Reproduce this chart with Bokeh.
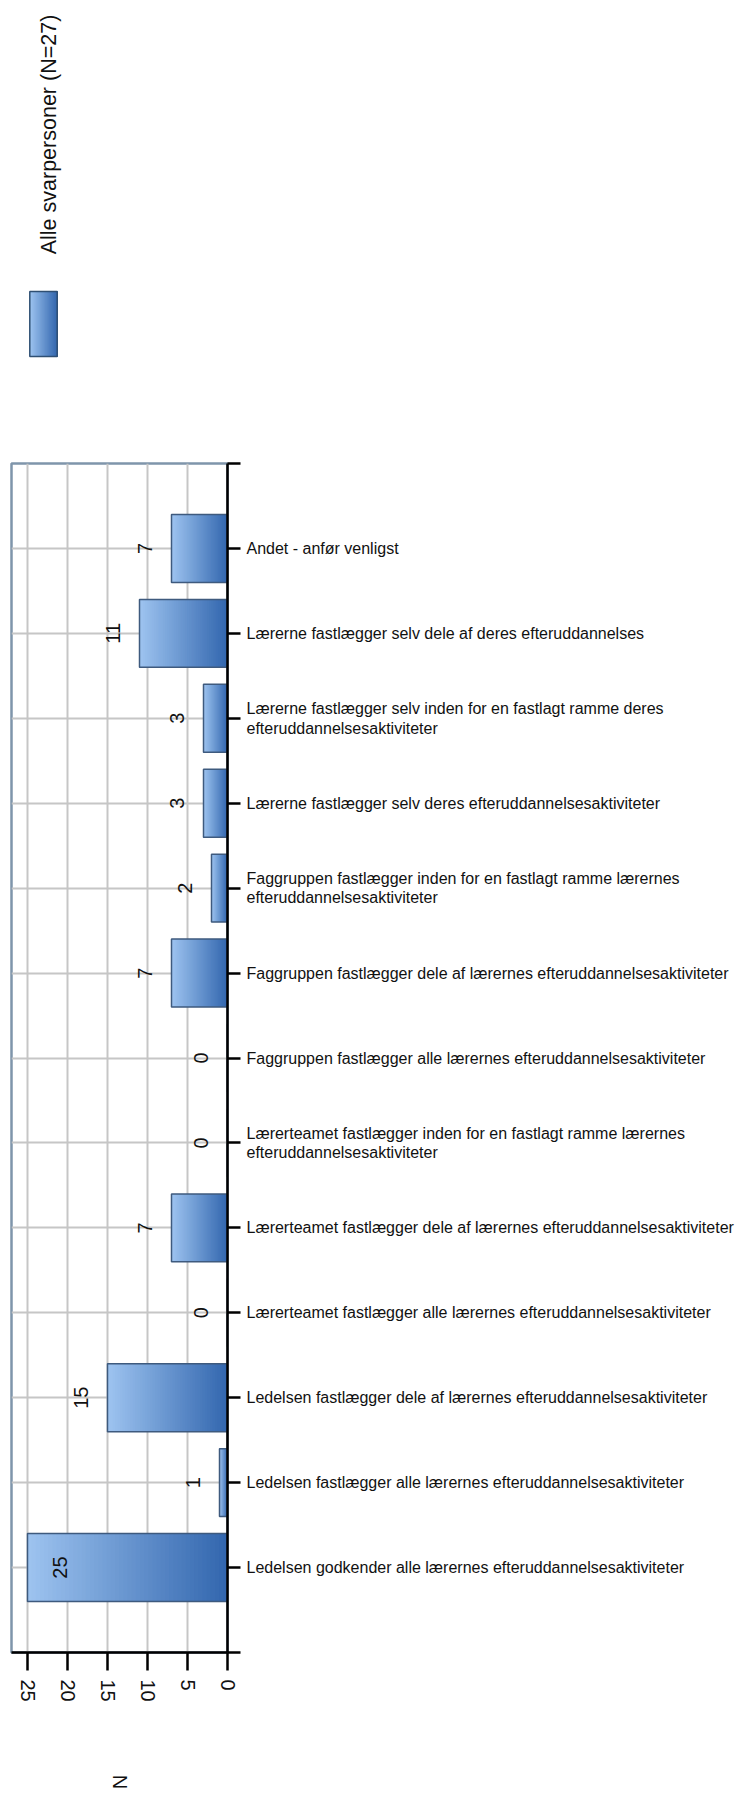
import math
from bokeh.plotting import figure
from bokeh.models import Range1d, FixedTicker
from bokeh.layouts import column
from bokeh.embed import file_html
from bokeh.resources import INLINE
from bokeh.core.properties import value

# ---------------- data ----------------
categories = [
    "Ledelsen godkender alle lærernes efteruddannelsesaktiviteter",
    "Ledelsen fastlægger alle lærernes efteruddannelsesaktiviteter",
    "Ledelsen fastlægger dele af lærernes efteruddannelsesaktiviteter",
    "Lærerteamet fastlægger alle lærernes efteruddannelsesaktiviteter",
    "Lærerteamet fastlægger dele af lærernes efteruddannelsesaktiviteter",
    "Lærerteamet fastlægger inden for en fastlagt ramme lærernes\nefteruddannelsesaktiviteter",
    "Faggruppen fastlægger alle lærernes efteruddannelsesaktiviteter",
    "Faggruppen fastlægger dele af lærernes efteruddannelsesaktiviteter",
    "Faggruppen fastlægger inden for en fastlagt ramme lærernes\nefteruddannelsesaktiviteter",
    "Lærerne fastlægger selv deres efteruddannelsesaktiviteter",
    "Lærerne fastlægger selv inden for en fastlagt ramme deres\nefteruddannelsesaktiviteter",
    "Lærerne fastlægger selv dele af deres efteruddannelses",
    "Andet - anfør venligst",
]
counts = [25, 1, 15, 0, 7, 0, 0, 7, 2, 3, 3, 11, 7]
series_name = "Alle svarpersoner (N=27)"
value_ticks = [0, 5, 10, 15, 20, 25]
value_axis_title = "N"
value_max = 27

# ---------------- style ----------------
FONT = "Liberation Sans"
LIGHT = (158, 196, 240)
DARK = (50, 102, 174)
BAR_LINE = "#3E5A7E"
GRID = "#C6C6C6"
FRAME = "#7F95AB"
TXT = "#111111"
LEG_H = 455
FRAME_W, FRAME_H = 216, 1189
BORDER_L, BORDER_R = 11, 509
NSLICE = 48


def mix(t):
    r = [round(d + (l - d) * t) for d, l in zip(DARK, LIGHT)]
    return "#%02x%02x%02x" % tuple(r)


# ---------------- legend strip (frame aligned with the main frame; units = pixels, y up) ----------------
leg = figure(frame_width=FRAME_W, frame_height=LEG_H,
             x_range=Range1d(BORDER_L, BORDER_L + FRAME_W), y_range=Range1d(0, LEG_H),
             x_axis_type=None, y_axis_type=None, toolbar_location=None,
             output_backend="svg", min_border_left=BORDER_L, min_border_right=BORDER_R,
             min_border_top=0, min_border_bottom=0, outline_line_color=None)
sw_l, sw_r, sw_top_px, sw_bot_px = 29.3, 56.7, 291.0, 356.0
sw_t, sw_b = LEG_H - sw_top_px, LEG_H - sw_bot_px
ns = 24
leg.quad(left=[sw_l + (sw_r - sw_l) * k / ns for k in range(ns)],
         right=sw_r, bottom=sw_b, top=sw_t,
         fill_color=[mix(1 - (k + 0.5) / ns) for k in range(ns)], line_color=None)
leg.quad(left=[sw_l], right=[sw_r], bottom=[sw_b], top=[sw_t], fill_color=None,
         line_color="#2F4F73", line_width=1.5)
leg.text(x=[48], y=[LEG_H - 134], text=[series_name], angle=math.pi / 2,
         text_align="center", text_baseline="middle",
         text_font=value(FONT), text_font_size="21.5px", text_color=TXT)

# ---------------- main figure ----------------
pos = [i + 1 for i in range(len(categories))]
p = figure(frame_width=FRAME_W, frame_height=FRAME_H, x_range=Range1d(value_max, 0),
           y_range=Range1d(0, len(categories) + 1), y_axis_location="right",
           toolbar_location=None, output_backend="svg",
           min_border_left=BORDER_L, min_border_right=BORDER_R,
           min_border_top=8, min_border_bottom=144)
p.outline_line_color = FRAME
p.outline_line_width = 2.5

# gradient bars: nested slices from value*k/N out to the bar end
ys, lefts, rights, cols = [], [], [], []
for y, v in zip(pos, counts):
    if v <= 0:
        continue
    for k in range(NSLICE):
        ys.append(y)
        lefts.append(v * k / NSLICE)
        rights.append(v)
        cols.append(mix((k + 0.5) / NSLICE))
p.hbar(y=ys, left=lefts, right=rights, height=0.8, fill_color=cols, line_color=None)
p.hbar(y=pos, left=0, right=counts, height=0.8, fill_color=None,
       line_color=BAR_LINE, line_width=1.5)

# value labels
off_out, off_in = 3.3, 4.0
lab_x = [v + off_out if v + off_out + 1.5 < value_max else v - off_in for v in counts]
p.text(x=lab_x, y=pos, text=[str(v) for v in counts], angle=math.pi / 2,
       text_align="center", text_baseline="middle",
       text_font=value(FONT), text_font_size="20px", text_color=TXT)

# category axis (right)
ya = p.yaxis[0]
yt = FixedTicker(ticks=list(range(0, len(categories) + 2)))
ya.ticker = yt
ov = {0: "", len(categories) + 1: ""}
for y, c in zip(pos, categories):
    ov[y] = c
ya.major_label_overrides = ov
ya.axis_line_color = "black"
ya.axis_line_width = 2.5
ya.major_tick_line_color = "black"
ya.major_tick_line_width = 2.5
ya.major_tick_in = 0
ya.major_tick_out = 13
ya.minor_tick_line_color = None
ya.major_label_standoff = 6
ya.major_label_text_font = FONT
ya.major_label_text_font_size = "16px"
ya.major_label_text_color = TXT
ya.major_label_text_line_height = 1.15

# value axis (bottom)
xa = p.xaxis[0]
xt = FixedTicker(ticks=value_ticks)
xa.ticker = xt
xa.major_label_orientation = "vertical"
xa.axis_line_color = "black"
xa.axis_line_width = 2.5
xa.major_tick_line_color = "black"
xa.major_tick_line_width = 2.5
xa.major_tick_in = 0
xa.major_tick_out = 18
xa.minor_tick_line_color = None
xa.major_label_standoff = 9
xa.major_label_text_font = FONT
xa.major_label_text_font_size = "20px"
xa.major_label_text_color = TXT
xa.axis_label = value_axis_title
xa.axis_label_text_font = FONT
xa.axis_label_text_font_size = "20px"
xa.axis_label_text_font_style = "normal"
xa.axis_label_text_color = TXT
xa.axis_label_standoff = 70
if "axis_label_orientation" in xa.properties():
    xa.axis_label_orientation = "vertical"

p.xgrid.ticker = xt
p.ygrid.ticker = yt
p.xgrid.grid_line_color = GRID
p.xgrid.grid_line_width = 2
p.ygrid.grid_line_color = GRID
p.ygrid.grid_line_width = 2

layout = column(leg, p)
open("out.html", "w").write(file_html(layout, INLINE))
